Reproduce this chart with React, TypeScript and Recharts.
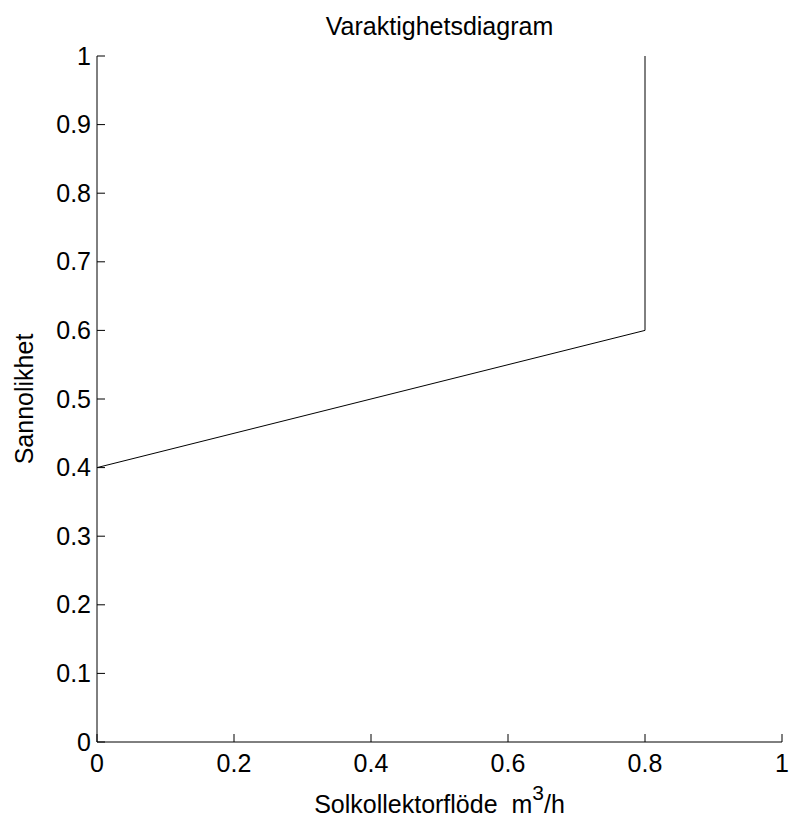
import React from "react";
import { LineChart, Line, XAxis, YAxis } from "recharts";

const flow = [0, 0.8, 0.8];
const probability = [0.4, 0.6, 1];
const xTicks = [0, 0.2, 0.4, 0.6, 0.8, 1];
const yTicks = [0, 0.1, 0.2, 0.3, 0.4, 0.5, 0.6, 0.7, 0.8, 0.9, 1];
const xTickLabels = ["0", "0.2", "0.4", "0.6", "0.8", "1"];
const yTickLabels = ["0", "0.1", "0.2", "0.3", "0.4", "0.5", "0.6", "0.7", "0.8", "0.9", "1"];

const data = flow.map((f, i) => ({ flow: f, p: probability[i] }));

const FONT = '"Liberation Sans", Arial, sans-serif';
const FS = 25;
const W = 789;
const H = 818;
const M = { top: 56, right: 7, bottom: 46, left: 37 };
const YW = 60;
const XH = 30;

const XTick = (props: any) => {
  const { x, y, payload } = props;
  const idx = xTicks.indexOf(payload.value);
  return (
    <g>
      <line x1={x} y1={y} x2={x} y2={y - 8} stroke="#000" strokeWidth={1} />
      <text x={x} y={y + 30} textAnchor="middle" fontFamily={FONT} fontSize={FS} fill="#000">
        {idx >= 0 ? xTickLabels[idx] : String(payload.value)}
      </text>
    </g>
  );
};

const YTick = (props: any) => {
  const { x, y, payload } = props;
  const idx = yTicks.indexOf(payload.value);
  return (
    <g>
      <line x1={x} y1={y} x2={x + 8} y2={y} stroke="#000" strokeWidth={1} />
      <text x={x - 6} y={y + 8.5} textAnchor="end" fontFamily={FONT} fontSize={FS} fill="#000">
        {idx >= 0 ? yTickLabels[idx] : String(payload.value)}
      </text>
    </g>
  );
};

const XLabel = (props: any) => {
  const vb = props.viewBox || {};
  const cx = vb.x + vb.width / 2;
  return (
    <text x={cx} y={vb.y + 71} textAnchor="middle" fontFamily={FONT} fontSize={FS} fill="#000">
      {"Solkollektorflöde\u00a0\u00a0m"}
      <tspan fontSize={21} dy={-13}>3</tspan>
      <tspan dy={13}>/h</tspan>
    </text>
  );
};

const YLabel = (props: any) => {
  const vb = props.viewBox || {};
  const cy = vb.y + vb.height / 2;
  const x = 33;
  return (
    <text
      x={x}
      y={cy}
      transform={`rotate(-90 ${x} ${cy})`}
      textAnchor="middle"
      fontFamily={FONT}
      fontSize={FS}
      fill="#000"
    >
      Sannolikhet
    </text>
  );
};

export default function App() {
  const plotLeft = M.left + YW;
  const plotRight = W - M.right;
  return (
    <div style={{ position: "absolute", left: 0, top: 0, width: W, height: H, background: "#fff" }}>
      <LineChart width={W} height={H} data={data} margin={M}>
        <XAxis
          dataKey="flow"
          type="number"
          domain={[0, 1]}
          ticks={xTicks}
          height={XH}
          tickSize={0}
          tickMargin={0}
          tickLine={false}
          tick={<XTick />}
          axisLine={{ stroke: "#000", strokeWidth: 1 }}
          interval={0}
          label={<XLabel />}
        />
        <YAxis
          dataKey="p"
          type="number"
          domain={[0, 1]}
          ticks={yTicks}
          width={YW}
          tickSize={0}
          tickMargin={0}
          tickLine={false}
          tick={<YTick />}
          axisLine={{ stroke: "#000", strokeWidth: 1 }}
          interval={0}
          label={<YLabel />}
        />
        <Line
          type="linear"
          dataKey="p"
          stroke="#000"
          strokeWidth={1}
          dot={false}
          isAnimationActive={false}
        />
      </LineChart>
      <svg
        width={W}
        height={50}
        style={{ position: "absolute", left: 0, top: 0, pointerEvents: "none" }}
      >
        <text
          x={(plotLeft + plotRight) / 2}
          y={35}
          textAnchor="middle"
          fontFamily={FONT}
          fontSize={FS}
          fill="#000"
        >
          Varaktighetsdiagram
        </text>
      </svg>
    </div>
  );
}
